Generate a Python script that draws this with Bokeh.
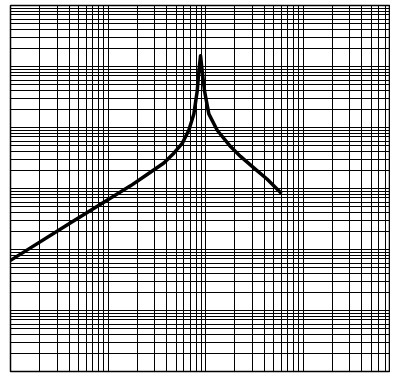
import numpy as np
from bokeh.plotting import figure
from bokeh.models import FixedTicker, Range1d
from bokeh.embed import file_html
from bokeh.resources import INLINE

# Frequency (x) and magnitude (y)
freq = [1.0, 4.1, 17.0, 25.2, 37.4, 47.3, 57.7, 67.4, 75.9, 82.2, 85.4, 88.9,
        92.5, 97.7, 108.1, 131.8, 180.5, 228.5, 312.8, 429.3, 587.8]
mag = [0.0663, 0.271, 1.105, 1.70, 2.62, 3.79, 5.49, 9.02, 16.7, 39.6, 83.1, 150.3,
       83.1, 39.6, 16.7, 9.02, 4.86, 3.36, 2.18, 1.416, 0.862]

x_decades = [1, 10, 100, 1000, 10000]
y_decades = [1e-3, 1e-2, 1e-1, 1, 10, 100, 1000]

def minors(decs):
    return [m * d for d in decs[:-1] for m in range(2, 10)]

p = figure(width=390, height=373, x_axis_type="log", y_axis_type="log",
           x_range=Range1d(1, 10 ** 3.897), y_range=Range1d(1e-3, 1e3),
           output_backend="svg", toolbar_location=None,
           min_border_left=10, min_border_right=0, min_border_top=5, min_border_bottom=2)

p.xaxis.ticker = FixedTicker(ticks=x_decades, minor_ticks=minors(x_decades))
p.yaxis.ticker = FixedTicker(ticks=y_decades, minor_ticks=minors(y_decades))
p.xaxis.visible = False
p.yaxis.visible = False

for g in (p.xgrid, p.ygrid):
    g.grid_line_color = "black"
    g.grid_line_alpha = 1.0
    g.grid_line_width = 1
    g.minor_grid_line_color = "black"
    g.minor_grid_line_alpha = 1.0
    g.minor_grid_line_width = 1

p.outline_line_color = "black"
p.outline_line_width = 1.5
p.background_fill_color = "white"
p.border_fill_color = "white"

p.line(freq, mag, line_color="black", line_width=3.5, line_join="round", line_cap="round")

open("out.html", "w").write(file_html(p, INLINE))
